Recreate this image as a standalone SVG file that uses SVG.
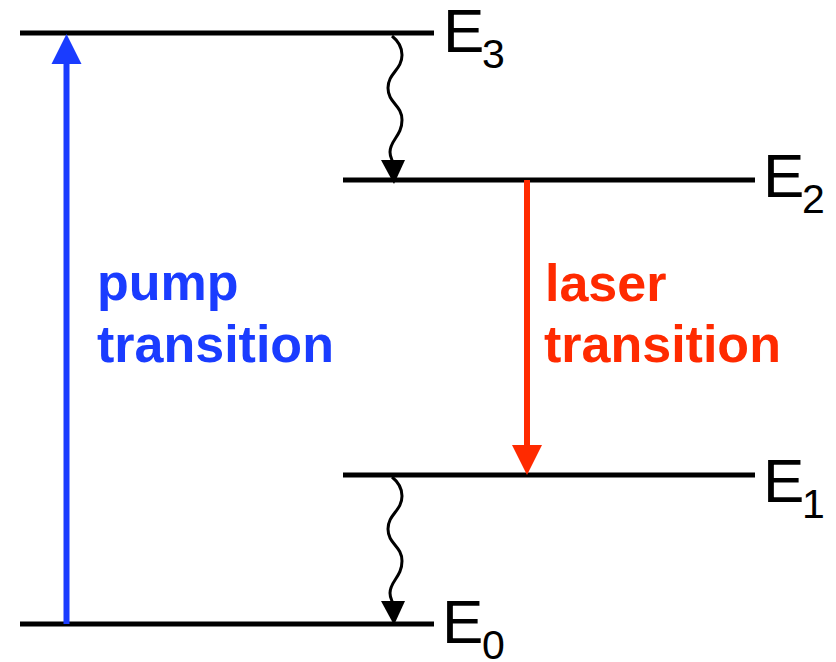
<svg xmlns="http://www.w3.org/2000/svg" width="836" height="662" viewBox="0 0 836 662">
<style>
.lvl{stroke:#000;stroke-width:5;fill:none}
.wave{stroke:#000;stroke-width:3;fill:none}
.E{font-family:"Liberation Sans",Arial,sans-serif;font-size:62px;fill:#000}
.sub{font-family:"Liberation Sans",Arial,sans-serif;font-size:41px;fill:#000}
.lbl{font-family:"Liberation Sans",Arial,sans-serif;font-size:52px;font-weight:bold}
</style>
<rect width="836" height="662" fill="#fff"/>
<g id="E3">
<line class="lvl" x1="20" y1="33" x2="434" y2="33"/>
<text class="E" x="443" y="52">E</text><text class="sub" x="482" y="68">3</text>
</g>
<g id="E2">
<line class="lvl" x1="343" y1="180" x2="755" y2="180"/>
<text class="E" x="763" y="197">E</text><text class="sub" x="802" y="213">2</text>
</g>
<g id="E1">
<line class="lvl" x1="343" y1="475" x2="755" y2="475"/>
<text class="E" x="763" y="502">E</text><text class="sub" x="802" y="518">1</text>
</g>
<g id="E0">
<line class="lvl" x1="20" y1="624" x2="434" y2="624"/>
<text class="E" x="442" y="643">E</text><text class="sub" x="482" y="659">0</text>
</g>
<g id="connectors">
<g id="pump">
<line x1="66.5" y1="624" x2="66.5" y2="60" stroke="#1a3cff" stroke-width="6"/>
<polygon points="66.5,34 51.5,64 81.5,64" fill="#1a3cff"/>
</g>
<g id="laser">
<line x1="527" y1="180" x2="527" y2="448" stroke="#ff2a00" stroke-width="6"/>
<polygon points="527,475 512,445 542,445" fill="#ff2a00"/>
</g>
<g id="relax32">
<path class="wave" d="M392,36 C397,40 402,46 402,55 C402,70 388,73 388,88 C388,103 402,105 402,120 C402,136 390,140 390,152 C390,157 392,159 393,163"/>
<polygon points="381,160 405,160 394,184" fill="#000"/>
</g>
<g id="relax10" transform="translate(0,441)">
<path class="wave" d="M392,36 C397,40 402,46 402,55 C402,70 388,73 388,88 C388,103 402,105 402,120 C402,136 390,140 390,152 C390,157 392,159 393,163"/>
<polygon points="381,160 405,160 394,184" fill="#000"/>
</g>
</g>
<g id="labels">
<text class="lbl" fill="#1a3cff" x="97" y="300">pump</text>
<text class="lbl" fill="#1a3cff" x="97" y="362">transition</text>
<text class="lbl" fill="#ff2a00" x="545" y="301">laser</text>
<text class="lbl" fill="#ff2a00" x="544" y="362">transition</text>
</g>
</svg>
